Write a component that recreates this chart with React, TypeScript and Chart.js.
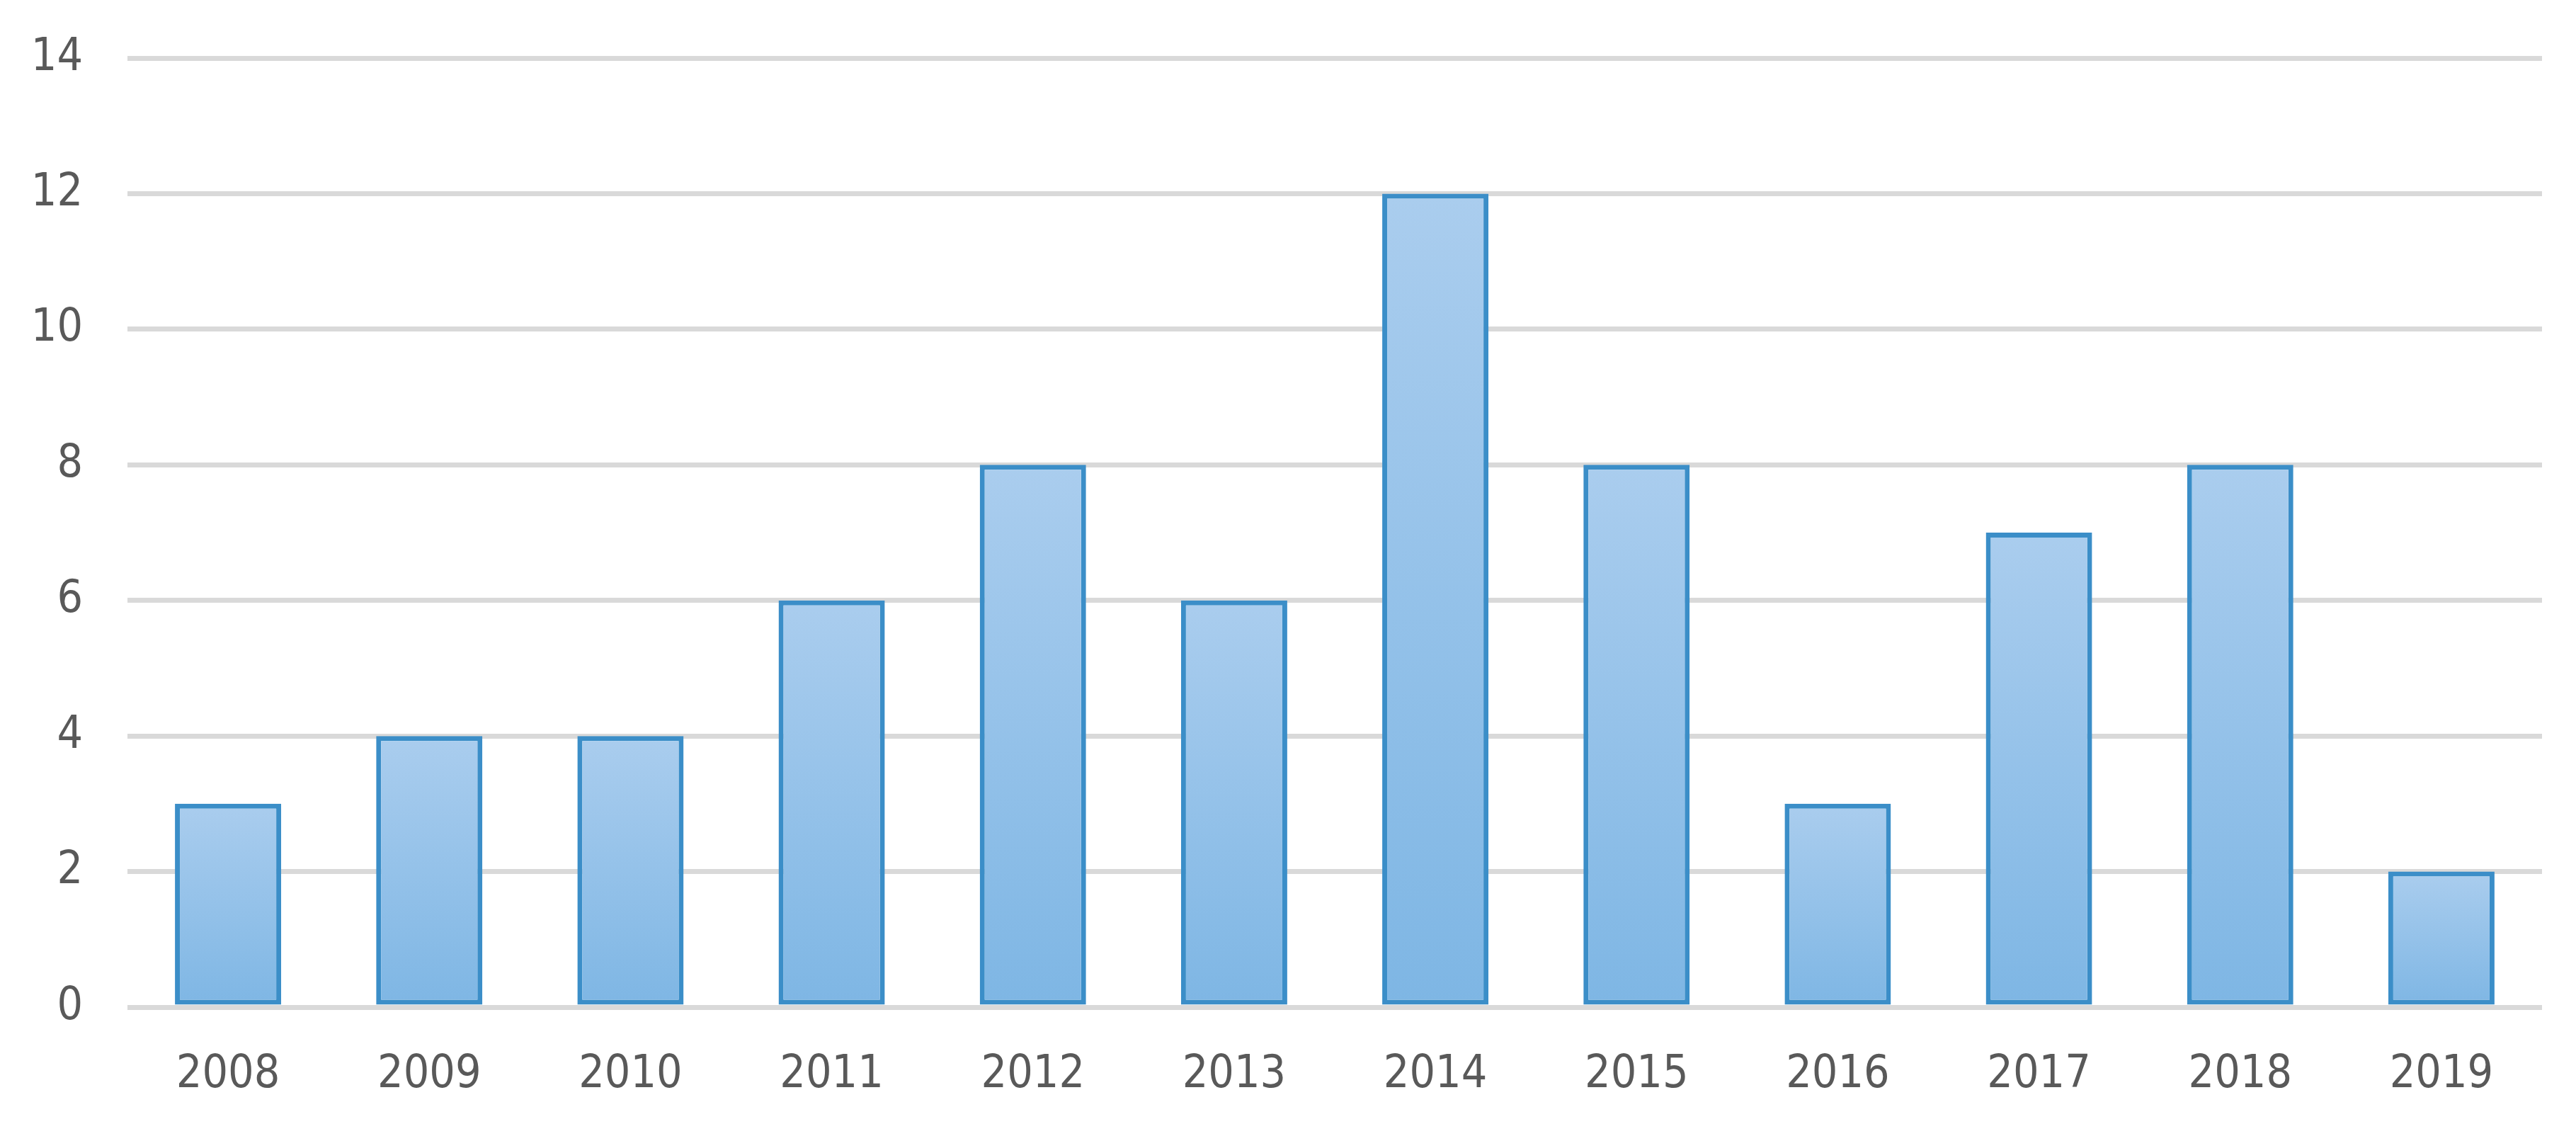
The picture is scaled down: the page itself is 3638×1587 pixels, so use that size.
import React, { useEffect, useRef } from "react";
import { Chart, registerables } from "chart.js";

Chart.register(...registerables);

const categories = ["2008", "2009", "2010", "2011", "2012", "2013", "2014", "2015", "2016", "2017", "2018", "2019"];
const counts = [3, 4, 4, 6, 8, 6, 12, 8, 3, 7, 8, 2];
const yTicks = [0, 2, 4, 6, 8, 10, 12, 14];

const W = 3638;
const H = 1587;
const FONT = '"DejaVu Sans Condensed", "Liberation Sans", sans-serif';

export default function App() {
  const ref = useRef<HTMLCanvasElement | null>(null);

  useEffect(() => {
    document.body.style.margin = "0";
    const canvas = ref.current;
    if (!canvas) return;
    const chart = new Chart(canvas, {
      type: "bar",
      data: {
        labels: categories,
        datasets: [
          {
            data: counts,
            backgroundColor: (ctx: any) => {
              const c = ctx.chart;
              const ys = c.scales?.y;
              if (!ys || ctx.raw == null) return "#95c1e8";
              const top = ys.getPixelForValue(ctx.raw);
              const bottom = ys.getPixelForValue(0);
              if (!isFinite(top) || !isFinite(bottom) || top === bottom) return "#95c1e8";
              const g = c.ctx.createLinearGradient(0, top, 0, bottom);
              g.addColorStop(0, "#aacdee");
              g.addColorStop(1, "#7eb6e4");
              return g;
            },
            borderColor: "#3b8ec8",
            borderWidth: 7,
            borderSkipped: false,
            barPercentage: 0.528,
            categoryPercentage: 1,
          },
        ],
      },
      options: {
        responsive: false,
        animation: false,
        maintainAspectRatio: false,
        layout: { padding: { top: 82, right: 48, left: 0, bottom: 0 } },
        plugins: { legend: { display: false }, tooltip: { enabled: false }, title: { display: false } },
        scales: {
          x: {
            grid: { display: false, drawTicks: false },
            border: { display: false },
            ticks: {
              color: "#595959",
              padding: 58,
              font: { family: FONT, size: 64 },
              maxRotation: 0,
            },
            afterFit: (s: any) => {
              s.height = 165;
            },
          },
          y: {
            min: 0,
            max: 14,
            afterBuildTicks: (s: any) => {
              s.ticks = yTicks.map((v) => ({ value: v }));
            },
            grid: { color: "#d9d9d9", lineWidth: 7, drawTicks: false },
            border: { display: false },
            ticks: {
              color: "#595959",
              padding: 63,
              font: { family: FONT, size: 64 },
            },
            afterFit: (s: any) => {
              s.width = 180;
              s.paddingTop = 0;
              s.paddingBottom = 0;
            },
          },
        },
      },
    });
    return () => chart.destroy();
  }, []);

  return (
    <div style={{ width: W, height: H, background: "#ffffff" }}>
      <canvas ref={ref} width={W} height={H} style={{ width: W, height: H, display: "block" }} />
    </div>
  );
}
